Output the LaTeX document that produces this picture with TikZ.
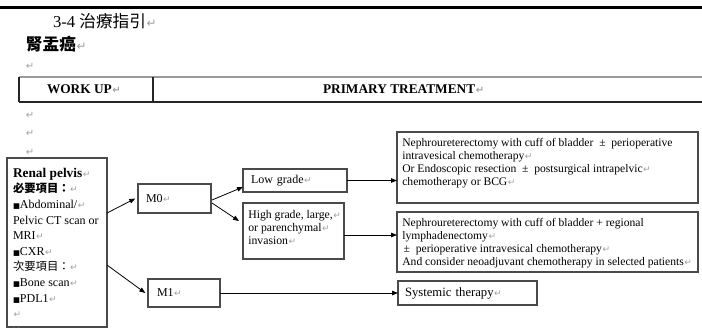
\documentclass[tikz,border=0pt]{standalone}
\usepackage{fontspec}
\setmainfont{Liberation Serif}
\newfontfamily\cjk{Noto Sans CJK TC}
\newfontfamily\symf{DejaVu Sans}
\usetikzlibrary{arrows.meta,calc}

\definecolor{retgray}{HTML}{A0A0A0}
\definecolor{boxline}{HTML}{4A4A4A}
\definecolor{rulegray}{HTML}{9A9A9A}

% paragraph mark and bullet square
\newcommand\rt[1][6.8]{{\symf\fontsize{#1}{#1}\selectfont\color{retgray}\hspace{0.4pt}↵}}
\newcommand\sqb{{\symf\fontsize{5.5}{5.5}\selectfont ■}}

\begin{document}
\begin{tikzpicture}[x=0.75pt,y=-0.75pt,
  every node/.style={inner sep=0pt, outer sep=0pt},
  box/.style={draw=boxline, line width=0.8pt, anchor=north west},
  arr/.style={-{Triangle[length=4.5pt,width=3.4pt]}, line width=0.6pt, black},
  retmark/.style={anchor=west, text=retgray, font=\symf\fontsize{7.5}{7.5}\selectfont},
  hdr/.style={anchor=west, font=\fontsize{10}{12}\selectfont\bfseries},
]
\useasboundingbox (0,0) rectangle (702,329);

% heading rule
\draw[line width=1.9pt] (0,7.5) -- (702,7.5);

\node[anchor=west, font=\fontsize{12.5}{14}\selectfont] (secttitle) at (53,21) {3-4 {\cjk 治療指引}\rt[9]};
\node[anchor=west, font=\fontsize{12.5}{14}\selectfont] (disease) at (26,44) {{\cjk\bfseries 腎盂癌}\rt[9]};
\node[retmark] (blankA) at (26,66) {↵};

% header table
\draw[rulegray, line width=1.2pt] (19,77) -- (702,77);
\draw[black!85, line width=0.8pt] (19,102) -- (702,102);
\draw[black!85, line width=0.8pt] (19,77) -- (19,102) (153,77) -- (153,102);
\node[hdr] (workup) at (47,89.5) {WORK UP\rt[7.5]};
\node[hdr] (primary) at (323,89.5) {PRIMARY TREATMENT\rt[7.5]};

\node[retmark] (blankB) at (26,115) {↵};
\node[retmark] (blankC) at (26,133) {↵};
\node[retmark] (blankD) at (26,152) {↵};

% work-up box
\node[box, inner xsep=4.5pt, inner ysep=3pt] (renal) at (7,158)
  {\parbox[c][120.75pt][t]{66pt}{\raggedright\fontsize{9}{11.7}\selectfont\vspace*{4.5pt}%
   {\fontsize{10}{11.7}\selectfont\bfseries Renal pelvis}\rt\\
   {\cjk\bfseries\fontsize{8.5}{11.7}\selectfont 必要項目：}\rt\\
   \sqb Abdominal/\rt\\
   Pelvic CT scan or\\
   MRI\rt\\
   \sqb CXR\rt\\
   {\cjk\fontsize{8.5}{11.7}\selectfont 次要項目：}\rt\\
   \sqb Bone scan\rt\\
   \sqb PDL1\rt\\
   \rt\\[-3.5pt]
   {\color{black!45}\fontsize{6}{6}\selectfont . .}}};

% staging boxes
\node[box, inner xsep=6pt, text width=42.75pt, minimum height=21.75pt, align=left,
      font=\fontsize{9}{11}\selectfont] (m0) at (138,184) {M0\rt};
\node[box, inner xsep=6.75pt, text width=40.5pt, minimum height=21pt, align=left,
      font=\fontsize{9}{11}\selectfont] (m1) at (148,279) {M1\rt};

% grade boxes
\node[box, inner xsep=6pt, text width=66pt, minimum height=17.25pt, align=left,
      font=\fontsize{9}{11}\selectfont] (low) at (243,169) {Low grade\rt};
\node[box, inner xsep=4pt, inner ysep=3pt] (high) at (243,203)
  {\parbox[c][36pt][t]{67.75pt}{\raggedright\fontsize{8.8}{9.75}\selectfont\vspace*{2.5pt}%
   \mbox{High grade, large,\rt}\\
   \mbox{or parenchymal\rt}\\
   invasion\rt}};

% treatment boxes
\node[box, inner xsep=4pt, inner ysep=3pt] (tx1) at (397,132)
  {\parbox[c][47.25pt][t]{217.75pt}{\raggedright\fontsize{8.7}{9.75}\selectfont\vspace*{1.6pt}%
   \mbox{Nephroureterectomy with cuff of bladder\enspace±\enspace perioperative}\\
   intravesical chemotherapy\rt\\
   \mbox{Or Endoscopic resection\enspace±\enspace postsurgical intrapelvic\rt}\\
   chemotherapy or BCG\rt}};
\node[box, inner xsep=4pt, inner ysep=3pt] (tx2) at (397,212)
  {\parbox[c][39pt][t]{217.75pt}{\raggedright\fontsize{8.7}{9.75}\selectfont\vspace*{1.6pt}%
   \mbox{Nephroureterectomy with cuff of bladder + regional}\\
   lymphadenectomy\rt\\
   \mbox{\hspace{1pt}±\enspace perioperative intravesical chemotherapy\rt}\\
   \mbox{And consider neoadjuvant chemotherapy in selected patients\rt}}};
\node[box, inner xsep=5.25pt, text width=93.75pt, minimum height=18pt, align=left,
      font=\fontsize{9.5}{11}\selectfont] (sys) at (398,281) {Systemic therapy\rt};

% connectors
\coordinate (rOutA) at ($(renal.north east)+(0,55)$);
\coordinate (rOutB) at ($(renal.north east)+(0,107)$);
\coordinate (hiOut) at ($(high.east)+(0,4)$);
\draw[arr] (rOutA) -- ([xshift=-2pt]m0.west);
\draw[arr] (rOutB) -- ([xshift=-2pt]m1.west);
\draw[arr] ($(m0.east)+(1,1.5)$) -- ($(low.south west)+(0,-5)$);
\draw[arr] ($(m0.east)+(1,4.5)$) -- ($(high.north west)+(-4,18)$);
\draw[arr] (low.east) -- (low.east -| tx1.west);
\draw[arr] (hiOut) -- (hiOut -| tx2.west);
\draw[arr] (m1.east) -- (m1.east -| sys.west);
\end{tikzpicture}
\end{document}
